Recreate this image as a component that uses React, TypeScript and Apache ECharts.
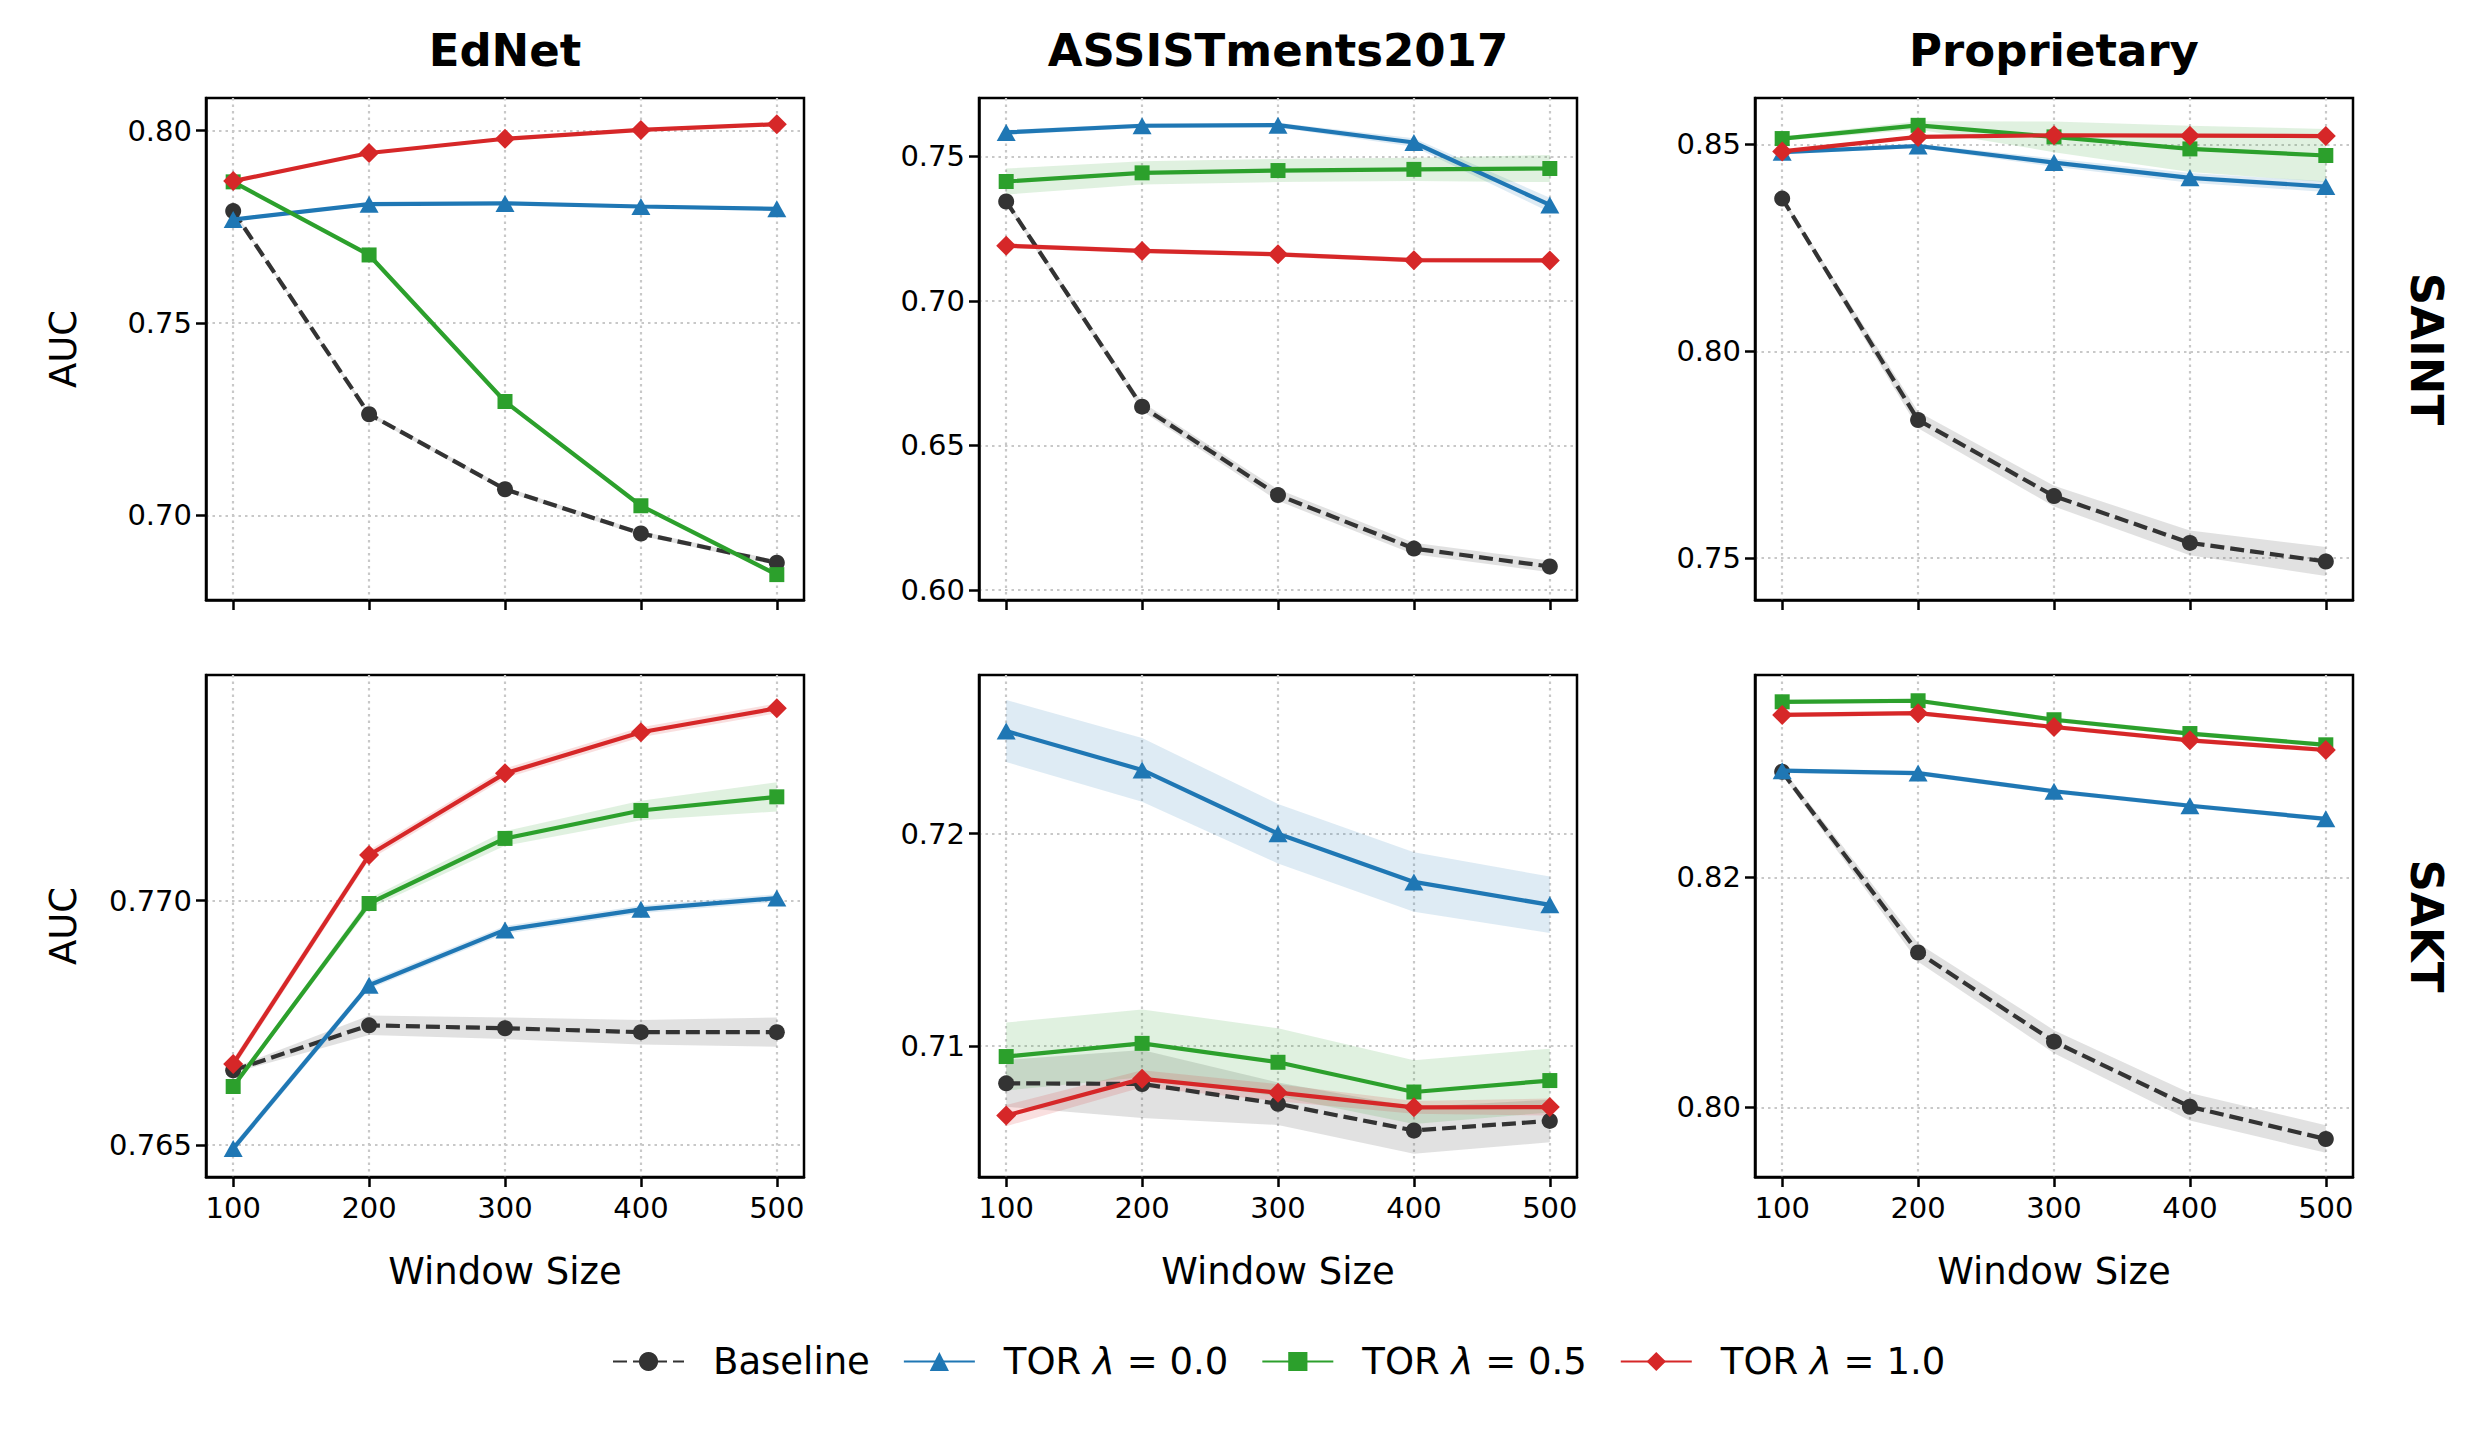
import React, { useEffect, useRef } from 'react';
import * as echarts from 'echarts';

// ---------- data ----------
const windowSizes = [100, 200, 300, 400, 500];
const datasetNames = ['EdNet', 'ASSISTments2017', 'Proprietary'];
const modelNames = ['SAINT', 'SAKT'];
const seriesNames = ['Baseline', 'TOR λ = 0.0', 'TOR λ = 0.5', 'TOR λ = 1.0'];

// EdNet · SAINT
const ednetSaintBaseline = [0.7791, 0.7263, 0.7068, 0.6953, 0.6877];
const ednetSaintTor00 = [0.7769, 0.7809, 0.7811, 0.7803, 0.7797];
const ednetSaintTor05 = [0.7867, 0.7677, 0.7296, 0.7025, 0.6846];
const ednetSaintTor10 = [0.7869, 0.7942, 0.7979, 0.8002, 0.8017];
const ednetSaintBaselineSd = [0.0004, 0.0005, 0.0006, 0.0006, 0.0006];
const ednetSaintTor00Sd = [0.0004, 0.0004, 0.0004, 0.0004, 0.0004];
const ednetSaintTor05Sd = [0.0003, 0.0003, 0.0003, 0.0003, 0.0003];
const ednetSaintTor10Sd = [0.0003, 0.0003, 0.0003, 0.0003, 0.0003];

// ASSISTments2017 · SAINT
const assistSaintBaseline = [0.7344, 0.6634, 0.6328, 0.6143, 0.6081];
const assistSaintTor00 = [0.7583, 0.7606, 0.7608, 0.7548, 0.7332];
const assistSaintTor05 = [0.7413, 0.7443, 0.7451, 0.7455, 0.7458];
const assistSaintTor10 = [0.7191, 0.7173, 0.7161, 0.7141, 0.714];
const assistSaintBaselineSd = [0.001, 0.0015, 0.002, 0.002, 0.002];
const assistSaintTor00Sd = [0.0008, 0.0008, 0.0008, 0.0015, 0.0025];
const assistSaintTor05Sd = [0.0045, 0.004, 0.004, 0.004, 0.0047];
const assistSaintTor10Sd = [0.0008, 0.0008, 0.0008, 0.0008, 0.0008];

// Proprietary · SAINT
const propSaintBaseline = [0.8369, 0.7834, 0.765, 0.7537, 0.7492];
const propSaintTor00 = [0.8481, 0.8496, 0.8456, 0.8419, 0.8398];
const propSaintTor05 = [0.8514, 0.8546, 0.8518, 0.8489, 0.8473];
const propSaintTor10 = [0.8483, 0.8518, 0.8522, 0.8521, 0.852];
const propSaintBaselineSd = [0.0005, 0.002, 0.0025, 0.003, 0.0035];
const propSaintTor00Sd = [0.0005, 0.0005, 0.001, 0.0012, 0.0013];
const propSaintTor05Sd = [0.0005, 0.001, 0.0037, 0.0056, 0.0064];
const propSaintTor10Sd = [0.0004, 0.0004, 0.0004, 0.0004, 0.0004];

// EdNet · SAKT
const ednetSaktBaseline = [0.76653, 0.76745, 0.76739, 0.76731, 0.76731];
const ednetSaktTor00 = [0.76493, 0.76827, 0.7694, 0.76982, 0.77005];
const ednetSaktTor05 = [0.7662, 0.76994, 0.77127, 0.77184, 0.77212];
const ednetSaktTor10 = [0.76666, 0.77093, 0.7726, 0.77344, 0.77393];
const ednetSaktBaselineSd = [0.00005, 0.0002, 0.00022, 0.00025, 0.0003];
const ednetSaktTor00Sd = [0.00008, 0.00008, 0.00008, 0.00008, 0.00008];
const ednetSaktTor05Sd = [0.00005, 0.0001, 0.00015, 0.0002, 0.0003];
const ednetSaktTor10Sd = [0.0001, 0.0001, 0.0001, 0.0001, 0.0001];

// ASSISTments2017 · SAKT
const assistSaktBaseline = [0.70825, 0.70822, 0.70729, 0.70603, 0.70648];
const assistSaktTor00 = [0.72483, 0.723, 0.72, 0.71773, 0.71665];
const assistSaktTor05 = [0.70951, 0.71013, 0.70924, 0.70784, 0.70838];
const assistSaktTor10 = [0.70673, 0.70846, 0.70781, 0.70712, 0.70713];
const assistSaktBaselineSd = [0.0011, 0.0016, 0.001, 0.0011, 0.001];
const assistSaktTor00Sd = [0.00146, 0.0015, 0.0014, 0.0014, 0.00133];
const assistSaktTor05Sd = [0.0016, 0.0016, 0.0016, 0.0015, 0.0015];
const assistSaktTor10Sd = [0.0005, 0.0004, 0.0004, 0.0003, 0.0004];

// Proprietary · SAKT
const propSaktBaseline = [0.82919, 0.81347, 0.80572, 0.80006, 0.79725];
const propSaktTor00 = [0.82928, 0.82907, 0.82749, 0.82623, 0.82509];
const propSaktTor05 = [0.83527, 0.83536, 0.83371, 0.83251, 0.83153];
const propSaktTor10 = [0.83413, 0.83428, 0.83308, 0.83192, 0.83108];
const propSaktBaselineSd = [0.0003, 0.0008, 0.001, 0.0012, 0.0012];
const propSaktTor00Sd = [0.0002, 0.0002, 0.0002, 0.0002, 0.0002];
const propSaktTor05Sd = [0.0002, 0.0002, 0.0002, 0.0002, 0.0002];
const propSaktTor10Sd = [0.0002, 0.0002, 0.0002, 0.0002, 0.0002];

// axes (panel order: row-major, SAINT row then SAKT row)
const xAxisMin = 80;
const xAxisMax = 520;
const yAxisMin = [0.678, 0.5965, 0.7399, 0.76435, 0.70384, 0.79395];
const yAxisMax = [0.8085, 0.7702, 0.8612, 0.77461, 0.72747, 0.8376];
const yTickValues = [
  [0.7, 0.75, 0.8],
  [0.6, 0.65, 0.7, 0.75],
  [0.75, 0.8, 0.85],
  [0.765, 0.77],
  [0.71, 0.72],
  [0.8, 0.82],
];
const yTickDecimals = [2, 2, 2, 3, 2, 2];

const panelMeans = [
  [ednetSaintBaseline, ednetSaintTor00, ednetSaintTor05, ednetSaintTor10],
  [assistSaintBaseline, assistSaintTor00, assistSaintTor05, assistSaintTor10],
  [propSaintBaseline, propSaintTor00, propSaintTor05, propSaintTor10],
  [ednetSaktBaseline, ednetSaktTor00, ednetSaktTor05, ednetSaktTor10],
  [assistSaktBaseline, assistSaktTor00, assistSaktTor05, assistSaktTor10],
  [propSaktBaseline, propSaktTor00, propSaktTor05, propSaktTor10],
];
const panelSds = [
  [ednetSaintBaselineSd, ednetSaintTor00Sd, ednetSaintTor05Sd, ednetSaintTor10Sd],
  [assistSaintBaselineSd, assistSaintTor00Sd, assistSaintTor05Sd, assistSaintTor10Sd],
  [propSaintBaselineSd, propSaintTor00Sd, propSaintTor05Sd, propSaintTor10Sd],
  [ednetSaktBaselineSd, ednetSaktTor00Sd, ednetSaktTor05Sd, ednetSaktTor10Sd],
  [assistSaktBaselineSd, assistSaktTor00Sd, assistSaktTor05Sd, assistSaktTor10Sd],
  [propSaktBaselineSd, propSaktTor00Sd, propSaktTor05Sd, propSaktTor10Sd],
];

// ---------- styles ----------
const FONT = 'DejaVu Sans';
const colors = ['#333333', '#1f77b4', '#2ca02c', '#d62728'];
const symbols = ['circle', 'triangle', 'rect', 'diamond'];
const symbolSizes: any[] = [16, [19, 17], 15, [20, 20]];
const gridLeft = [206, 979, 1755];
const gridTop = [98, 675];
const gridWidth = 598;
const gridHeight = 502;

function buildOption() {
  const grid: any[] = [];
  const xAxis: any[] = [];
  const yAxis: any[] = [];
  const series: any[] = [];
  const graphic: any[] = [];

  for (let r = 0; r < 2; r++) {
    for (let c = 0; c < 3; c++) {
      const i = r * 3 + c;
      grid.push({
        left: gridLeft[c],
        top: gridTop[r],
        width: gridWidth,
        height: gridHeight,
        show: true,
        borderColor: '#000',
        borderWidth: 2.5,
        backgroundColor: 'transparent',
      });
      xAxis.push({
        gridIndex: i,
        type: 'value',
        min: xAxisMin,
        max: xAxisMax,
        axisLine: { show: true, onZero: false, lineStyle: { color: '#000', width: 2.5 } },
        axisTick: { show: true, customValues: windowSizes, length: 10, lineStyle: { color: '#000', width: 2.5 } },
        axisLabel: {
          show: r === 1,
          customValues: windowSizes,
          fontSize: 29,
          fontFamily: FONT,
          color: '#000',
          margin: 16,
        },
        splitLine: { show: true, lineStyle: { color: '#c8c8c8', width: 2.2, type: [2.5, 4] } },
      });
      const dec = yTickDecimals[i];
      yAxis.push({
        gridIndex: i,
        type: 'value',
        min: yAxisMin[i],
        max: yAxisMax[i],
        axisLine: { show: true, onZero: false, lineStyle: { color: '#000', width: 2.5 } },
        axisTick: { show: true, customValues: yTickValues[i], length: 10, lineStyle: { color: '#000', width: 2.5 } },
        axisLabel: {
          show: true,
          customValues: yTickValues[i],
          formatter: (v: number) => v.toFixed(dec),
          fontSize: 29,
          fontFamily: FONT,
          color: '#000',
          margin: 14,
        },
        splitLine: { show: true, lineStyle: { color: '#c8c8c8', width: 2.2, type: [2.5, 4] } },
      });

      const means = panelMeans[i];
      const sds = panelSds[i];
      for (let j = 0; j < 4; j++) {
        const m = means[j];
        const s = sds[j];
        const color = colors[j];
        series.push({
          type: 'custom',
          name: 'band-' + i + '-' + j,
          xAxisIndex: i,
          yAxisIndex: i,
          z: 1,
          silent: true,
          data: windowSizes.map((x, k) => [x, m[k] - s[k], m[k] + s[k]]),
          encode: { x: 0, y: [1, 2] },
          renderItem: (params: any, api: any) => {
            if (params.dataIndex !== 0) return null;
            const upper = windowSizes.map((x, k) => api.coord([x, m[k] + s[k]]));
            const lower = windowSizes.map((x, k) => api.coord([x, m[k] - s[k]])).reverse();
            return {
              type: 'polygon',
              shape: { points: upper.concat(lower) },
              style: { fill: color, opacity: 0.15, stroke: 'none' },
              silent: true,
            };
          },
        });
      }
      for (let j = 0; j < 4; j++) {
        const m = means[j];
        series.push({
          type: 'line',
          name: seriesNames[j],
          xAxisIndex: i,
          yAxisIndex: i,
          z: 3 + j,
          clip: false,
          showSymbol: true,
          symbol: symbols[j],
          symbolSize: symbolSizes[j],
          data: windowSizes.map((x, k) => [x, m[k]]),
          lineStyle: { color: colors[j], width: 4.2, type: j === 0 ? [14, 6] : 'solid' },
          itemStyle: { color: colors[j], borderWidth: 0 },
          emphasis: { disabled: true },
        });
      }
    }
  }

  // column titles and x-axis names
  for (let c = 0; c < 3; c++) {
    graphic.push({
      type: 'text',
      x: gridLeft[c] + gridWidth / 2,
      y: 50,
      style: {
        text: datasetNames[c],
        fontSize: 45,
        fontWeight: 'bold',
        fontFamily: FONT,
        fill: '#000',
        align: 'center',
        verticalAlign: 'middle',
      },
    });
    graphic.push({
      type: 'text',
      x: gridLeft[c] + gridWidth / 2,
      y: 1271,
      style: {
        text: 'Window Size',
        fontSize: 37,
        fontFamily: FONT,
        fill: '#000',
        align: 'center',
        verticalAlign: 'middle',
      },
    });
  }
  // row labels and y-axis names
  for (let r = 0; r < 2; r++) {
    const cy = gridTop[r] + gridHeight / 2;
    graphic.push({
      type: 'text',
      x: 2426,
      y: cy,
      rotation: -Math.PI / 2,
      style: {
        text: modelNames[r],
        fontSize: 45,
        fontWeight: 'bold',
        fontFamily: FONT,
        fill: '#000',
        align: 'center',
        verticalAlign: 'middle',
      },
    });
    graphic.push({
      type: 'text',
      x: 63,
      y: cy,
      rotation: Math.PI / 2,
      style: {
        text: 'AUC',
        fontSize: 37,
        fontFamily: FONT,
        fill: '#000',
        align: 'center',
        verticalAlign: 'middle',
      },
    });
  }

  return {
    animation: false,
    backgroundColor: '#ffffff',
    grid,
    xAxis,
    yAxis,
    series,
    graphic,
    legend: {
      data: seriesNames,
      left: 607,
      top: 1338,
      itemWidth: 71,
      itemHeight: 24,
      itemGap: 33,
      selectedMode: false,
      formatter: (name: string) => name.replace('λ', '{i|λ}'),
      textStyle: {
        fontSize: 37,
        fontFamily: FONT,
        color: '#000',
        padding: [0, 0, 0, 24],
        rich: {
          i: { fontSize: 37, fontFamily: FONT, fontStyle: 'italic', color: '#000' },
        },
      },
    },
  };
}

export default function App() {
  const ref = useRef<HTMLDivElement>(null);
  useEffect(() => {
    if (!ref.current) return;
    const chart = echarts.init(ref.current, null, { renderer: 'svg' });
    chart.setOption(buildOption() as any);
    return () => {
      chart.dispose();
    };
  }, []);
  return (
    <div
      ref={ref}
      style={{ position: 'fixed', left: 0, top: 0, width: 2472, height: 1429, background: '#fff' }}
    />
  );
}
